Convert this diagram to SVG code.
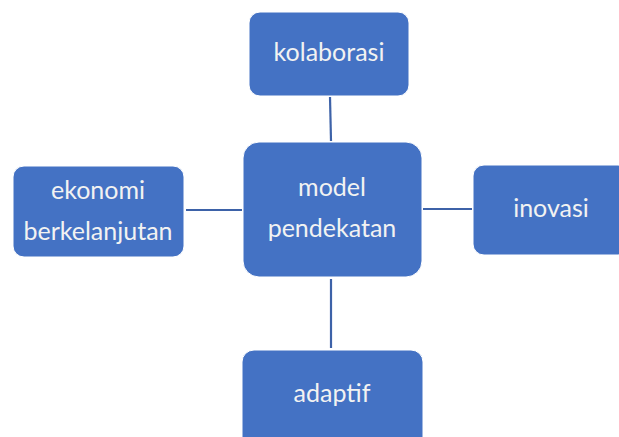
<svg xmlns="http://www.w3.org/2000/svg" width="619" height="437" viewBox="0 0 619 437">
<style>
.box{fill:#4472C4;stroke:#FFFFFF;stroke-width:1}
.lbl{font-family:Lato,"Open Sans","Liberation Sans",sans-serif;font-size:25px;fill:#F2F2F2;text-anchor:middle}
.con{stroke:#3D62A8;stroke-width:2.2;fill:none}
</style>
<rect width="619" height="437" fill="#FFFFFF"/>
<g id="connectors">
<line class="con" x1="330" y1="97" x2="331" y2="141"/>
<line class="con" x1="186" y1="210" x2="242" y2="210"/>
<line class="con" x1="423" y1="209" x2="472" y2="209"/>
<line class="con" x1="331" y1="279" x2="331" y2="348"/>
</g>
<g id="kolaborasi">
<rect class="box" x="249" y="12" width="160" height="84" rx="11"/>
<text class="lbl" x="329" y="61">kolaborasi</text>
</g>
<g id="model-pendekatan">
<rect class="box" x="243" y="142" width="179" height="135" rx="16"/>
<text class="lbl" x="332" y="196">model</text>
<text class="lbl" x="332" y="237">pendekatan</text>
</g>
<g id="ekonomi-berkelanjutan">
<rect class="box" x="13" y="166" width="171" height="91" rx="11"/>
<text class="lbl" x="98" y="199">ekonomi</text>
<text class="lbl" x="98" y="240">berkelanjutan</text>
</g>
<g id="inovasi">
<rect class="box" x="473" y="165" width="156" height="90" rx="11"/>
<text class="lbl" x="551" y="217">inovasi</text>
</g>
<g id="adaptif">
<rect class="box" x="242" y="350" width="181" height="100" rx="12"/>
<text class="lbl" x="332" y="402">adaptif</text>
</g>
</svg>
